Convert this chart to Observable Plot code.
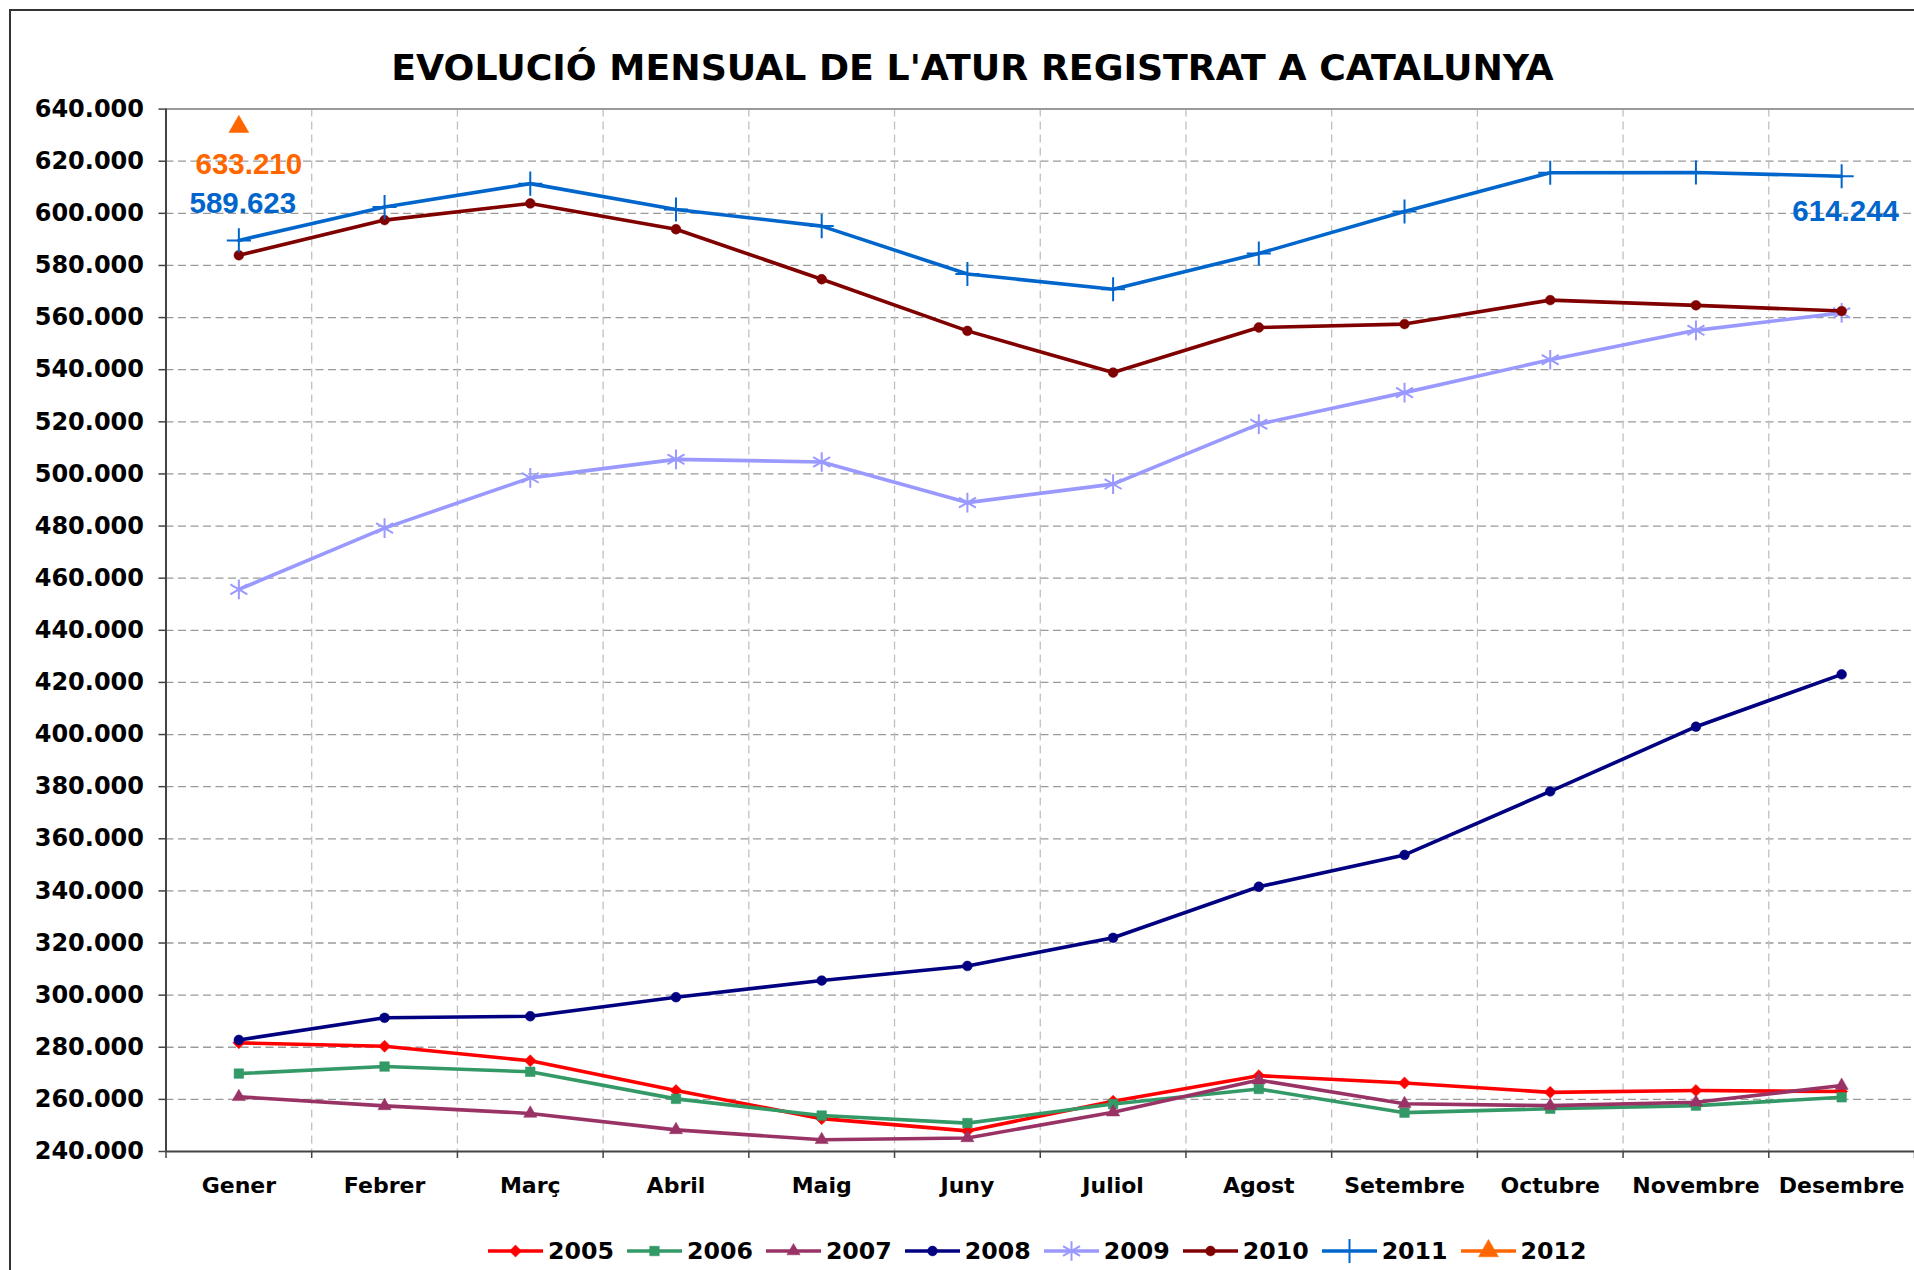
<!DOCTYPE html>
<html>
<head>
<meta charset="utf-8">
<script src="https://cdn.jsdelivr.net/npm/d3@7"></script>
<script src="https://cdn.jsdelivr.net/npm/@observablehq/plot@0.6"></script>
<style>
html, body { margin: 0; padding: 0; overflow: hidden; background: #fff; }
body { width: 1914px; height: 1270px; position: relative; font-family: "DejaVu Sans", sans-serif; }
#frame { position: absolute; left: 9px; top: 9px; width: 3000px; height: 3000px; border-left: 2px solid #333; border-top: 2px solid #333; box-sizing: border-box; }
#title { position: absolute; top: 46px; left: 0; width: 1945px; text-align: center; font-weight: bold; font-size: 36.3px; line-height: normal; color: #000; white-space: nowrap; }
#chart { position: absolute; left: 0; top: 95px; }
#legend { position: absolute; left: 488px; top: 1238px; display: flex; align-items: center; height: 26px; }
.item { display: flex; align-items: center; margin-right: 13px; }
.item span { font-weight: bold; font-size: 23.7px; line-height: 26px; margin-left: 5px; color: #000; }
</style>
</head>
<body>
<div id="frame"></div>
<div id="title">EVOLUCIÓ MENSUAL DE L'ATUR REGISTRAT A CATALUNYA</div>
<div id="chart"></div>
<div id="legend"></div>
<script>
// ---- Data ----
const months = ["Gener", "Febrer", "Març", "Abril", "Maig", "Juny", "Juliol", "Agost", "Setembre", "Octubre", "Novembre", "Desembre"];
const years = ["2005", "2006", "2007", "2008", "2009", "2010", "2011", "2012"];
const v2005 = [281700, 280400, 274800, 263400, 252600, 247900, 259300, 269100, 266300, 262700, 263400, 263000];
const v2006 = [269900, 272600, 270600, 260200, 253800, 250900, 258200, 264000, 254900, 256400, 257600, 260800];
const v2007 = [261000, 257500, 254600, 248300, 244500, 245200, 255100, 267400, 258300, 257600, 258900, 265300];
const v2008 = [282800, 291300, 291900, 299200, 305600, 311200, 322000, 341600, 353800, 378200, 403000, 423100];
const v2009 = [455700, 479200, 498500, 505600, 504600, 489000, 496100, 519100, 531200, 543800, 555100, 561800];
const v2010 = [583900, 597400, 603800, 593900, 574700, 554900, 538900, 556200, 557500, 566700, 564700, 562500];
const v2011 = [589623, 602400, 611400, 601500, 595100, 576700, 570900, 584600, 600700, 615600, 615700, 614244];
const v2012 = [633210];
const yTicks = d3.range(240000, 640001, 20000);
// labelled points: [year, month index]
const labelled = [["2012", 0], ["2011", 0], ["2011", 11]];

// ---- Styles ----
const styles = {
  "2005": {color: "#ff0000", symbol: "square", r: 4.8, rotate: 45, filled: true},
  "2006": {color: "#339966", symbol: "square", r: 5.4, rotate: 0, filled: true},
  "2007": {color: "#993366", symbol: "triangle", r: 4.9, rotate: 0, filled: true},
  "2008": {color: "#000080", symbol: "circle", r: 4.9, rotate: 0, filled: true},
  "2009": {color: "#9999ff", symbol: "asterisk", r: 9.3, rotate: 0, filled: false},
  "2010": {color: "#800000", symbol: "circle", r: 4.9, rotate: 0, filled: true},
  "2011": {color: "#0066cc", symbol: "plus", r: 7.8, rotate: 0, filled: false},
  "2012": {color: "#ff6600", symbol: "triangle", r: 7.4, rotate: 0, filled: true}
};
const labelOffsets = {"2012-0": [10, 38], "2011-0": [4, -37], "2011-11": [4, 35]};

const seriesValues = {"2005": v2005, "2006": v2006, "2007": v2007, "2008": v2008, "2009": v2009, "2010": v2010, "2011": v2011, "2012": v2012};
const rowsByYear = {};
for (const y of years) rowsByYear[y] = seriesValues[y].map((value, i) => ({year: y, i, month: months[i], value}));

const fmt = v => d3.format(",")(v).replace(/,/g, ".");

const seriesMarks = [];
for (const y of years) {
  const s = styles[y];
  const rows = rowsByYear[y];
  seriesMarks.push(Plot.line(rows, {x: d => d.i + 0.5, y: "value", stroke: s.color, strokeWidth: 3.6, strokeLinejoin: "round"}));
  seriesMarks.push(Plot.dot(rows, {
    x: d => d.i + 0.5, y: "value", symbol: () => s.symbol, r: s.r, rotate: s.rotate,
    fill: s.filled ? s.color : "none", stroke: s.color, strokeWidth: s.filled ? 0.5 : 2
  }));
}

const labelMarks = labelled.map(([y, i]) => {
  const d = rowsByYear[y][i];
  const [dx, dy] = labelOffsets[y + "-" + i];
  return Plot.text([d], {
    x: d => d.i + 0.5, y: "value", text: d => fmt(d.value), dx, dy,
    fill: styles[y].color, fontFamily: "Liberation Sans", fontSize: 29.5, fontWeight: "bold"
  });
});

const chart = Plot.plot({
  width: 1914,
  height: 1120,
  marginLeft: 165.5,
  marginRight: 0,
  marginTop: 13.6,
  marginBottom: 64,
  x: {domain: [0, 12]},
  y: {domain: [240000, 640000]},
  style: {fontFamily: "DejaVu Sans", fontWeight: "bold", color: "#000", background: "transparent", overflow: "visible"},
  marks: [
    Plot.gridY({ticks: yTicks.slice(1), stroke: "#9a9a9a", strokeOpacity: 1, strokeWidth: 1.3, strokeDasharray: "8,4.5"}),
    Plot.gridX({ticks: d3.range(1, 12), stroke: "#c0c0c0", strokeOpacity: 1, strokeWidth: 1.3, strokeDasharray: "8,5"}),
    Plot.ruleY([640000], {stroke: "#9a9a9a", strokeWidth: 2}),
    Plot.ruleX([0], {stroke: "#444", strokeWidth: 2}),
    Plot.ruleY([240000], {stroke: "#444", strokeWidth: 2}),
    Plot.axisY({ticks: yTicks, tickFormat: fmt, tickSize: 7, tickPadding: 15, fontSize: 24, fontWeight: "bold", color: "#000", stroke: "#444", strokeWidth: 1.5, label: null}),
    Plot.axisX({ticks: d3.range(0, 13), tickFormat: () => "", tickSize: 7, stroke: "#444", strokeWidth: 1.5, label: null}),
    Plot.axisX({ticks: d3.range(0.5, 12, 1), tickFormat: v => months[Math.floor(v)], tickSize: 0, tickPadding: 26, fontSize: 22, fontWeight: "bold", color: "#000", label: null}),
    ...seriesMarks,
    ...labelMarks
  ]
});
document.getElementById("chart").appendChild(chart);

// ---- Legend ----
const legend = d3.select("#legend");
const symMap = {square: d3.symbolSquare, triangle: d3.symbolTriangle, circle: d3.symbolCircle, asterisk: d3.symbolAsterisk, plus: d3.symbolPlus};
for (const y of years) {
  const s = styles[y];
  const item = legend.append("div").attr("class", "item");
  const svg = item.append("svg").attr("width", 55).attr("height", 26);
  svg.append("line").attr("x1", 0).attr("x2", 55).attr("y1", 13).attr("y2", 13)
    .attr("stroke", s.color).attr("stroke-width", 3.6);
  svg.append("path")
    .attr("d", d3.symbol(symMap[s.symbol], Math.PI * s.r * s.r)())
    .attr("transform", `translate(27.5,13) rotate(${s.rotate})`)
    .attr("fill", s.filled ? s.color : "none")
    .attr("stroke", s.color)
    .attr("stroke-width", s.filled ? 0.5 : 2);
  item.append("span").text(y);
}
</script>
</body>
</html>
